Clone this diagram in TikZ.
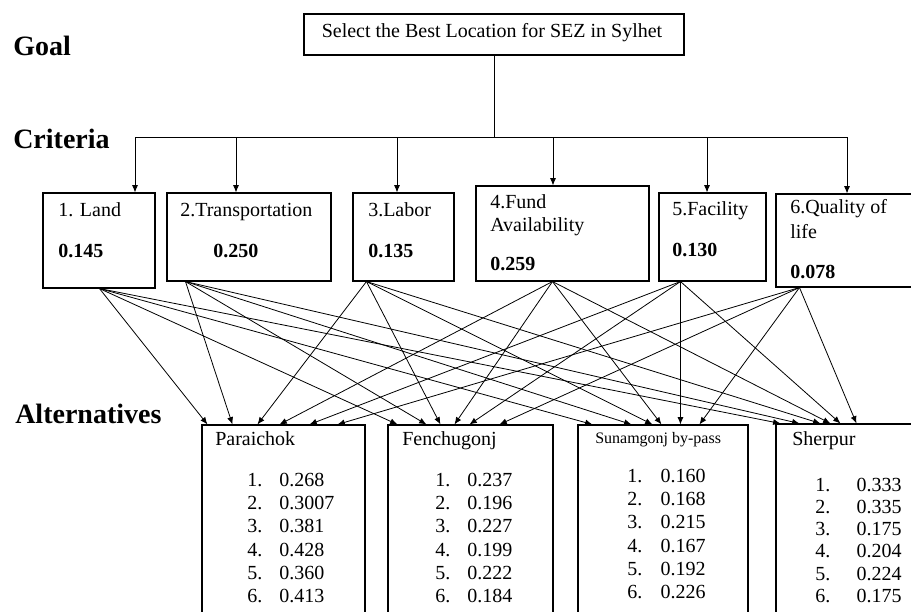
\documentclass[tikz,border=0pt]{standalone}
\usepackage{fontspec}
\setmainfont{Liberation Serif}
\usetikzlibrary{arrows.meta,fit,calc}

\begin{document}
\begin{tikzpicture}[x=0.75pt, y=-0.75pt,
    box/.style={draw, line width=0.8pt, inner sep=0pt},
    txt/.style={anchor=base west, inner sep=0pt, font=\fontsize{15}{17.5}\selectfont},
    wt/.style={txt, font=\fontsize{15}{18}\selectfont\bfseries},
    level/.style={anchor=base west, inner sep=0pt, font=\fontsize{21}{24}\selectfont\bfseries},
    list/.style={anchor=base west, inner sep=0pt, font=\fontsize{15}{17.5}\selectfont},
    arr/.style={-{Latex[length=5.5pt,width=4.5pt]}, line width=0.6pt}]

  \useasboundingbox (0,0) rectangle (911,611);

  % levels
  \node[level] (lgoal) at (13,55) {Goal};
  \node[level] (lcrit) at (13,148) {Criteria};
  \node[level] (lalt) at (15,423) {Alternatives};

  % goal
  \node[box, fit={(304,14) (684,55)}] (goal) {};
  \node[anchor=base, inner sep=0pt, font=\fontsize{15}{17}\selectfont] (goalT) at (492,37) {Select the Best Location for SEZ in Sylhet};

  \foreach \n/\x in {1/135, 2/236, 3/397, 4/553, 5/707, 6/847}
    \coordinate (b\n) at (\x,137);
  \draw[line width=0.7pt] (goal.south) -- (goal.south |- b1);
  \draw[line width=0.7pt] (b1) -- (b6);

  % criteria
  \node[box, fit={(43,193) (155,288)}] (land) {};
  \node[box, fit={(167,193) (331,281)}] (transp) {};
  \node[box, fit={(353,193) (454,281)}] (labor) {};
  \node[box, fit={(476,186) (649,281)}] (fund) {};
  \node[box, fit={(659,193) (766,281)}] (facil) {};
  \node[box, fit={(776,194) (920,287)}] (qual) {};

  \foreach \c [count=\n] in {land, transp, labor, fund, facil, qual}
    \draw[arr] (b\n) -- (b\n |- \c.north);

  \node[txt] (landN) at (58,216) {1. Land};
  \node[wt] (landW) at (58,257) {0.145};
  \node[txt] (transpN) at (180,216) {2.Transportation};
  \node[wt] (transpW) at (213,257) {0.250};
  \node[txt] (laborN) at (368,216) {3.Labor};
  \node[wt] (laborW) at (368,257) {0.135};
  \node[txt] (fundN) at (490,208) {4.Fund};
  \node[txt] (fundN2) at (490,231) {Availability};
  \node[wt] (fundW) at (490,270) {0.259};
  \node[txt] (facilN) at (672,215) {5.Facility};
  \node[wt] (facilW) at (672,256) {0.130};
  \node[txt] (qualN) at (790,213) {6.Quality of};
  \node[txt] (qualN2) at (790,238) {life};
  \node[wt] (qualW) at (790,278) {0.078};

  % alternatives
  \node[box, fit={(202,425) (365,620)}] (par) {};
  \node[box, fit={(388,425) (553,620)}] (fen) {};
  \node[box, fit={(578,425) (748,620)}] (sun) {};
  \node[box, fit={(776,424) (920,620)}] (she) {};

  \node[txt] (parN) at (215,445) {Paraichok};
  \node[list] (parL) at (247,486) {\begin{tabular}[t]{@{}p{24pt}@{}l@{}}1.&0.268\\2.&0.3007\\3.&0.381\\4.&0.428\\5.&0.360\\6.&0.413\end{tabular}};
  \node[txt] (fenN) at (402,445) {Fenchugonj};
  \node[list] (fenL) at (435,486) {\begin{tabular}[t]{@{}p{24pt}@{}l@{}}1.&0.237\\2.&0.196\\3.&0.227\\4.&0.199\\5.&0.222\\6.&0.184\end{tabular}};
  \node[txt, font=\fontsize{12}{14}\selectfont] (sunN) at (595,443) {Sunamgonj by-pass};
  \node[list] (sunL) at (627,482) {\begin{tabular}[t]{@{}p{25pt}@{}l@{}}1.&0.160\\2.&0.168\\3.&0.215\\4.&0.167\\5.&0.192\\6.&0.226\end{tabular}};
  \node[txt] (sheN) at (792,445) {Sherpur};
  \node[list, font=\fontsize{15}{16.7}\selectfont] (sheL) at (815,491) {\begin{tabular}[t]{@{}p{31pt}@{}l@{}}1.&0.333\\2.&0.335\\3.&0.175\\4.&0.204\\5.&0.224\\6.&0.175\end{tabular}};

  % criteria to alternatives
  \foreach \c/\s/\p/\f/\u/\h in {land/57/6/10/15/5, transp/19/31/39/54/24, labor/14/56/53/75/45,
      fund/77/78/67/84/55, facil/22/108/82/103/65, qual/24/136/112/122/81}
    \path ($(\c.south west)+(\s,0)$) edge[arr] ($(par.north west)+(\p,0)$)
      edge[arr] ($(fen.north west)+(\f,0)$) edge[arr] ($(sun.north west)+(\u,0)$) edge[arr] ($(she.north west)+(\h,0)$);

\end{tikzpicture}
\end{document}
